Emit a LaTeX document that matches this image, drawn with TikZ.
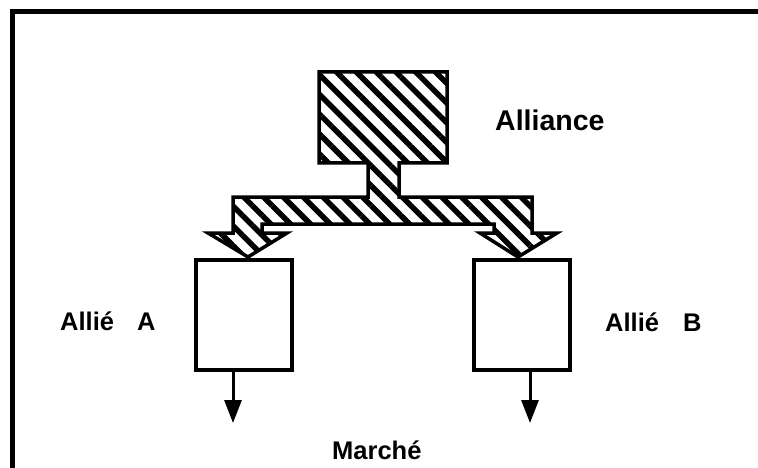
\documentclass[tikz,border=0pt]{standalone}
\usepackage{fontspec}
\setmainfont{Liberation Sans}
\usetikzlibrary{positioning, arrows.meta, patterns.meta}
\tikzset{Ally/.style={%
    shape=rectangle,%
    draw=black,%
    fill=white,%
    line width=4pt,%
    minimum width=96pt,%
    minimum height=110pt,%
    inner sep=0pt,%
}}
\tikzset{Label/.style={%
    anchor=base west,%
    inner sep=0pt,%
    font=\fontsize{25.5pt}{31pt}\selectfont\bfseries,%
}}
\tikzset{MarketEdge/.style={%
    -{Triangle[width=17pt,length=23pt]},
    line width=3pt,%
}}
\tikzset{Hatched/.style={%
    draw=black,%
    line width=3.5pt,%
    line join=miter,%
    pattern={Lines[angle=-45,distance=14pt,line width=5.5pt]},%
}}

\begin{document}
\begin{tikzpicture}[x=1pt, y=-1pt]
    \useasboundingbox (0,0) rectangle (758,468);
    \clip (0,0) rectangle (758,468);
    % frame
    \draw[line width=5pt] (12,480) -- (12,12) -- (770,12);

    % alliance and its two arrows
    \draw[Hatched] (319,72) -- (447,72) -- (447,163) -- (399,163)
        -- (399,197) -- (532,197) -- (532,233) -- (557,233) -- (518,257)
        -- (480,233) -- (494,233) -- (494,224) -- (262,224) -- (262,233)
        -- (287,233) -- (248,257) -- (208,233) -- (233,233) -- (233,197)
        -- (368,197) -- (368,163) -- (319,163) -- cycle;

    \node[Ally] (allyA) at (244,315) {};
    \node[Ally, right=178pt of allyA] (allyB) {};

    \coordinate (marketA) at (233,423);
    \coordinate (marketB) at (530,423);
    \path (allyA.south -| marketA) edge[MarketEdge] (marketA);
    \path (allyB.south -| marketB) edge[MarketEdge] (marketB);

    \node[Label, font=\fontsize{28.5pt}{34pt}\selectfont\bfseries] (allianceLabel) at (495,131) {Alliance};
    \node[Label] (allyALabel) at (60,330) {Allié\hspace{23pt}A};
    \node[Label] (allyBLabel) at (605,331) {Allié\hspace{24pt}B};
    \node[Label] (marketLabel) at (332,459) {Marché};
\end{tikzpicture}
\end{document}
